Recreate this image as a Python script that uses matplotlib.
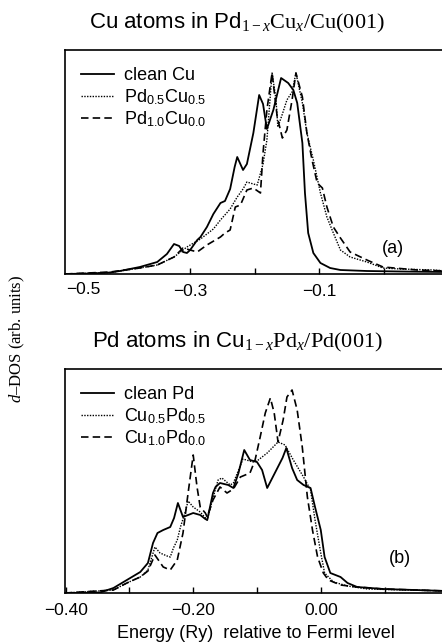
import matplotlib
matplotlib.use("Agg")
import matplotlib.pyplot as plt

plt.rcParams['font.family'] = ['Liberation Sans', 'DejaVu Sans']
plt.rcParams['mathtext.fontset'] = 'custom'
plt.rcParams['mathtext.rm'] = 'Liberation Serif'
plt.rcParams['mathtext.it'] = 'Liberation Serif:italic'
plt.rcParams['mathtext.sf'] = 'Liberation Sans'

# panel (a): Cu atoms in Pd(1-x)Cu(x)/Cu(001)
e_cu_clean = [-0.494, -0.455, -0.424, -0.409, -0.378, -0.351, -0.336, -0.325, -0.317, -0.311,
              -0.305, -0.300, -0.289, -0.284, -0.274, -0.264, -0.253, -0.246, -0.238, -0.231,
              -0.227, -0.218, -0.212, -0.202, -0.193, -0.187, -0.181, -0.171, -0.159, -0.148,
              -0.140, -0.134, -0.126, -0.122, -0.117, -0.109, -0.098, -0.083, -0.067, -0.026,
              0.026, 0.097]
d_cu_clean = [0, 0.5, 1.5, 3, 7, 12, 20, 30, 28, 22,
              21, 24, 34, 37, 47, 60, 71, 73, 85, 107,
              117, 104, 110, 141, 179, 170, 145, 164, 196, 191,
              184, 171, 131, 81, 41, 21, 11, 6, 4, 3,
              2.5, 2]

e_cu_half = [-0.494, -0.424, -0.378, -0.351, -0.325, -0.305, -0.284, -0.264, -0.253, -0.238,
             -0.227, -0.218, -0.212, -0.202, -0.196, -0.187, -0.181, -0.173, -0.167, -0.164,
             -0.157, -0.150, -0.142, -0.136, -0.126, -0.119, -0.109, -0.098, -0.088, -0.078,
             -0.067, -0.052, -0.026, -0.001, 0.026, 0.077, 0.097]
d_cu_half = [0, 1.5, 6, 9, 17, 27, 35, 45, 54, 65,
             77, 85, 92, 90, 89, 110, 134, 201, 175, 147,
             160, 174, 182, 201, 171, 141, 114, 81, 57, 41,
             24, 17, 12, 6, 5, 4, 3]

e_cu_full = [-0.494, -0.424, -0.378, -0.351, -0.325, -0.311, -0.300, -0.289, -0.274, -0.253,
             -0.246, -0.238, -0.230, -0.222, -0.212, -0.202, -0.191, -0.187, -0.181, -0.173,
             -0.165, -0.157, -0.150, -0.142, -0.136, -0.126, -0.119, -0.111, -0.103, -0.095,
             -0.088, -0.078, -0.067, -0.052, -0.026, -0.001, 0.052, 0.097]
d_cu_full = [0, 2, 6, 9, 17, 26, 24, 22, 29, 37,
             41, 44, 67, 69, 84, 86, 81, 121, 164, 201,
             157, 136, 144, 174, 201, 177, 141, 114, 91, 86,
             67, 47, 36, 22, 14, 7, 4, 3]

# panel (b): Pd atoms in Cu(1-x)Pd(x)/Pd(001)
e_pd_clean = [-0.401, -0.346, -0.325, -0.304, -0.283, -0.271, -0.263, -0.256, -0.247, -0.236,
              -0.230, -0.224, -0.216, -0.208, -0.200, -0.189, -0.181, -0.178, -0.169, -0.165,
              -0.158, -0.145, -0.137, -0.129, -0.120, -0.111, -0.100, -0.092, -0.084, -0.076,
              -0.068, -0.060, -0.054, -0.045, -0.037, -0.027, -0.016, -0.009, 0.000, 0.006,
              0.015, 0.031, 0.042, 0.057, 0.098, 0.197]
d_pd_clean = [0, 0.5, 5, 13, 21, 30, 50, 60, 63, 66,
              75, 90, 76, 78, 80, 78, 74, 73, 100, 106,
              110, 108, 105, 120, 143, 133, 131, 123, 105, 115,
              125, 135, 145, 125, 113, 108, 105, 86, 63, 36,
              20, 16, 10, 6, 4, 2]

e_pd_half = [-0.401, -0.325, -0.304, -0.283, -0.271, -0.260, -0.252, -0.241, -0.236, -0.231,
             -0.225, -0.220, -0.213, -0.208, -0.200, -0.189, -0.178, -0.169, -0.161, -0.155,
             -0.142, -0.137, -0.122, -0.106, -0.098, -0.084, -0.067, -0.056, -0.043, -0.027,
             -0.016, -0.009, 0.000, 0.006, 0.020, 0.042, 0.073, 0.197]
d_pd_half = [0, 3, 10, 16, 23, 46, 40, 37, 36, 45,
             53, 66, 80, 92, 86, 81, 73, 95, 113, 115,
             108, 110, 134, 131, 133, 140, 151, 148, 133, 116,
             103, 73, 40, 20, 11, 7, 4, 2]

e_pd_full = [-0.401, -0.325, -0.304, -0.283, -0.271, -0.260, -0.247, -0.236, -0.225, -0.216,
             -0.208, -0.200, -0.194, -0.189, -0.181, -0.178, -0.169, -0.158, -0.147, -0.137,
             -0.126, -0.111, -0.103, -0.095, -0.087, -0.079, -0.073, -0.067, -0.059, -0.053,
             -0.045, -0.037, -0.029, -0.021, -0.013, -0.005, 0.004, 0.012, 0.031, 0.057,
             0.098, 0.197]
d_pd_full = [0, 3, 10, 16, 22, 38, 26, 23, 33, 60,
             100, 138, 106, 86, 80, 76, 93, 106, 100, 104,
             116, 120, 133, 156, 180, 195, 180, 151, 173, 196,
             203, 183, 146, 96, 63, 36, 20, 13, 8, 6,
             4, 2]

labels_a = ["clean Cu", r"Pd$_{\mathsf{0.5}}$Cu$_{\mathsf{0.5}}$", r"Pd$_{\mathsf{1.0}}$Cu$_{\mathsf{0.0}}$"]
labels_b = ["clean Pd", r"Cu$_{\mathsf{0.5}}$Pd$_{\mathsf{0.5}}$", r"Cu$_{\mathsf{1.0}}$Pd$_{\mathsf{0.0}}$"]

W, H = 442, 643
fig = plt.figure(figsize=(W / 100, H / 100), dpi=100)


def px(x, y):
    return x / W, 1 - y / H


def draw_panel(ax, curves, labels, xlim, panel, panel_pos):
    solid, dotted, dashed = curves
    ax.plot(*solid, color='black', lw=1.3, ls='-', label=labels[0])
    ax.plot(*dotted, color='black', lw=1.0, ls=(0, (1, 1)), label=labels[1])
    ax.plot(*dashed, color='black', lw=1.2, ls=(0, (4.5, 2.5)), label=labels[2])
    ax.set_xlim(*xlim)
    ax.set_ylim(0, 224)
    ax.set_yticks([])
    ax.tick_params(axis='x', direction='in', length=4, width=1, labelsize=12.5, pad=7)
    for s in ax.spines.values():
        s.set_linewidth(1.2)
    ax.legend(loc='upper left', frameon=False, fontsize=13, handlelength=1.8,
              handletextpad=0.55, labelspacing=0.15, borderaxespad=0.3,
              bbox_to_anchor=(0.01, 0.98))
    ax.text(*panel_pos, panel, transform=ax.transAxes,
            fontsize=13, ha='center', va='center')


ax1 = fig.add_axes([65 / W, 1 - 274 / H, 1.01 - 65 / W, 224 / H])
draw_panel(ax1, [(e_cu_clean, d_cu_clean), (e_cu_half, d_cu_half), (e_cu_full, d_cu_full)],
           labels_a, (-0.494, 0.0973), '(a)', (0.86, 0.116))
ax1.set_xticks([-0.3, -0.2, -0.1, 0.0])
ax1.set_xticklabels(['\u22120.3', '', '\u22120.1', ''])
fig.text(*px(83, 290), '\u22120.5', fontsize=12.5, ha='center', va='center')

ax2 = fig.add_axes([65 / W, 1 - 593 / H, 1.01 - 65 / W, 224 / H])
draw_panel(ax2, [(e_pd_clean, d_pd_clean), (e_pd_half, d_pd_half), (e_pd_full, d_pd_full)],
           labels_b, (-0.401, 0.197), '(b)', (0.878, 0.156))
ax2.set_xticks([-0.4, -0.3, -0.2, -0.1, 0.0, 0.1])
ax2.set_xticklabels(['\u22120.40', '', '\u22120.20', '', '0.00', ''])

fig.text(*px(237, 23), r"Cu atoms in Pd$_{1-x}\mathrm{Cu}_x/\mathrm{Cu(001)}$",
         fontsize=16, ha='center', va='center')
fig.text(*px(237, 342), r"Pd atoms in Cu$_{1-x}\mathrm{Pd}_x/\mathrm{Pd(001)}$",
         fontsize=16, ha='center', va='center')
fig.text(*px(17, 339), r"$d$" + "\u2013DOS (arb. units)", rotation=90,
         fontsize=12, family='Liberation Serif', ha='center', va='center')
fig.text(*px(256, 633), "Energy (Ry)  relative to Fermi level",
         fontsize=13, ha='center', va='center')

fig.savefig("out.png", dpi=100)
